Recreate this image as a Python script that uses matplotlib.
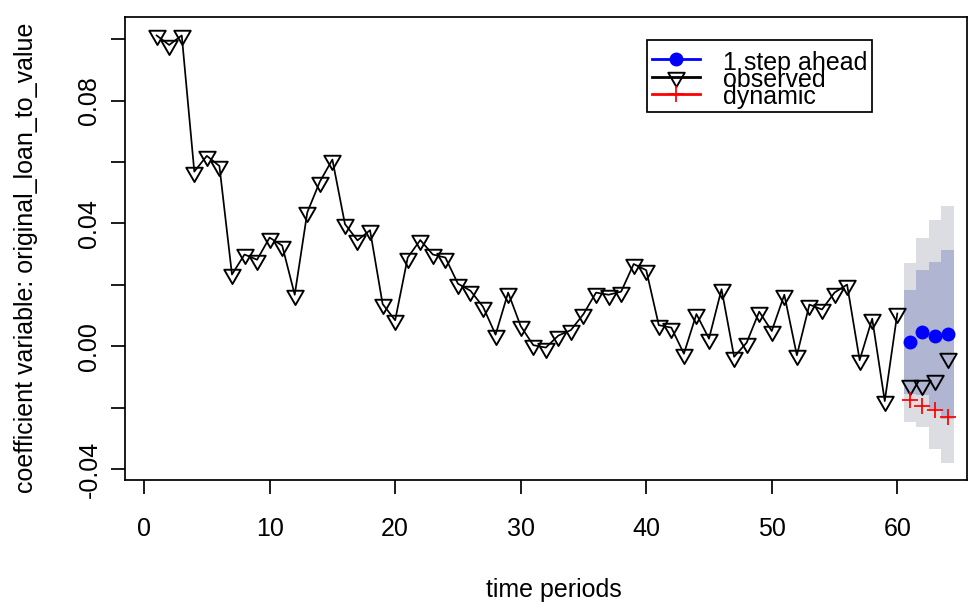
import numpy as np
import matplotlib
matplotlib.use('Agg')
import matplotlib.pyplot as plt
from matplotlib.path import Path
from matplotlib.lines import Line2D
from matplotlib.patches import Rectangle

# ---------------- data ----------------
periods = list(range(1, 61))
observed = [0.1012, 0.0981, 0.1012, 0.0569, 0.0620, 0.0587, 0.0234, 0.0299, 0.0282, 0.0354,
            0.0328, 0.0168, 0.0436, 0.0536, 0.0608, 0.0398, 0.0345, 0.0378, 0.0138, 0.0085,
            0.0289, 0.0346, 0.0299, 0.0289, 0.0204, 0.0181, 0.0129, 0.0038, 0.0175, 0.0066,
            0.0004, -0.0004, 0.0035, 0.0053, 0.0105, 0.0175, 0.0168, 0.0178, 0.0268, 0.0248,
            0.0069, 0.0061, -0.0024, 0.0105, 0.0025, 0.0186, -0.0034, 0.0012, 0.0113, 0.0050,
            0.0168, -0.0029, 0.0136, 0.0120, 0.0175, 0.0201, -0.0045, 0.0090, -0.0178, 0.0107]
fc_periods = [61, 62, 63, 64]
observed_fc = [-0.0126, -0.0126, -0.0110, -0.0037]
one_step = [0.0013, 0.0046, 0.0035, 0.0040]
dynamic = [-0.0176, -0.0193, -0.0208, -0.0231]
inner_lo = [-0.0156, -0.0158, -0.0205, -0.0235]
inner_hi = [0.0182, 0.0250, 0.0275, 0.0315]
outer_lo = [-0.0246, -0.0264, -0.0334, -0.0380]
outer_hi = [0.0272, 0.0353, 0.0410, 0.0456]

x_ticks = [0, 10, 20, 30, 40, 50, 60]
y_ticks = [-0.04, -0.02, 0.00, 0.02, 0.04, 0.06, 0.08, 0.10]
y_tick_labels = ['-0.04', '', '0.00', '', '0.04', '', '0.08', '']
legend_labels = ['1 step ahead', 'observed', 'dynamic']
x_label = 'time periods'
y_label = 'coefficient variable: original_loan_to_value'

# ---------------- style ----------------
plt.rcParams['font.family'] = ['Liberation Sans', 'DejaVu Sans']
FS = 18
W, H = 972, 610

fig = plt.figure(figsize=(W / 100, H / 100), dpi=100)
L, R, T, B = 125, 966.6, 16.7, 480
ax = fig.add_axes([L / W, 1 - B / H, (R - L) / W, (B - T) / H])

tri = Path([(0, -1), (-0.866, 0.5), (0.866, 0.5), (0, -1)],
           [Path.MOVETO, Path.LINETO, Path.LINETO, Path.CLOSEPOLY])

inner_col = '#b0b6d2'
outer_col = '#dcdce3'
LW = 1.25

# bands
ax.bar(fc_periods, np.array(outer_hi) - np.array(outer_lo), bottom=outer_lo, width=1.0,
       color=outer_col, linewidth=0, zorder=1)
ax.bar(fc_periods, np.array(inner_hi) - np.array(inner_lo), bottom=inner_lo, width=1.0,
       color=inner_col, linewidth=0, zorder=1.1)

# observed
ax.plot(periods, observed, color='black', lw=LW, zorder=2)
ax.plot(periods, observed, linestyle='none', marker=tri, ms=13.7, mfc='none',
        mec='black', mew=LW * 1.1, zorder=3)
ax.plot(fc_periods, observed_fc, linestyle='none', marker=tri, ms=13.7, mfc='none',
        mec='black', mew=LW * 1.1, zorder=3)
ax.plot(fc_periods, one_step, linestyle='none', marker='o', ms=9, mfc='blue', mec='blue',
        zorder=3)
ax.plot(fc_periods, dynamic, linestyle='none', marker='+', ms=12, mec='red', mew=LW,
        zorder=3)

ax.set_xlim(-1.52, 65.52)
ax.set_ylim(-0.0435, 0.1073)
ax.set_xticks(x_ticks)
ax.set_xticklabels([str(t) for t in x_ticks])
ax.set_yticks(y_ticks)
ax.set_yticklabels(y_tick_labels, rotation=90, va='center')
ax.tick_params(axis='both', direction='out', length=10, width=LW, labelsize=FS)
ax.tick_params(axis='x', pad=17)
ax.tick_params(axis='y', pad=7)
for s in ax.spines.values():
    s.set_linewidth(LW)

fig.text(554 / W, 1 - 590 / H, x_label, ha='center', va='center', fontsize=FS)
fig.text(26 / W, 1 - 257.5 / H, y_label, ha='center', va='center', rotation=90, fontsize=FS)

# ---------------- legend (manual, R-style cramped) ----------------
def fx(px):
    return px / W

def fy(py):
    return 1 - py / H

fig.add_artist(Rectangle((fx(647.3), fy(111.7)), fx(872.3) - fx(647.3), fy(40) - fy(111.7),
                         transform=fig.transFigure, facecolor='white', edgecolor='black',
                         linewidth=LW, zorder=5))
rows_y = [59.3, 76.5, 93.5]
styles = [dict(color='blue', marker='o', ms=9, mfc='blue', mec='blue'),
          dict(color='black', marker=tri, ms=13.7, mfc='none', mec='black', mew=LW * 1.1),
          dict(color='red', marker='+', ms=12, mec='red', mew=LW)]
for lab, yy, st in zip(legend_labels, rows_y, styles):
    fig.add_artist(Line2D([fx(651.7), fx(700)], [fy(yy), fy(yy)], transform=fig.transFigure,
                          lw=LW * 1.6, color=st['color'], zorder=6))
    mk = {k: v for k, v in st.items() if k != 'color'}
    fig.add_artist(Line2D([fx(675.7)], [fy(yy)], transform=fig.transFigure,
                          linestyle='none', zorder=7, **mk))
    fig.text(fx(722.7), fy(yy + 10.7), lab, ha='left', va='baseline', fontsize=FS, zorder=8)

fig.savefig('out.png', dpi=100)
